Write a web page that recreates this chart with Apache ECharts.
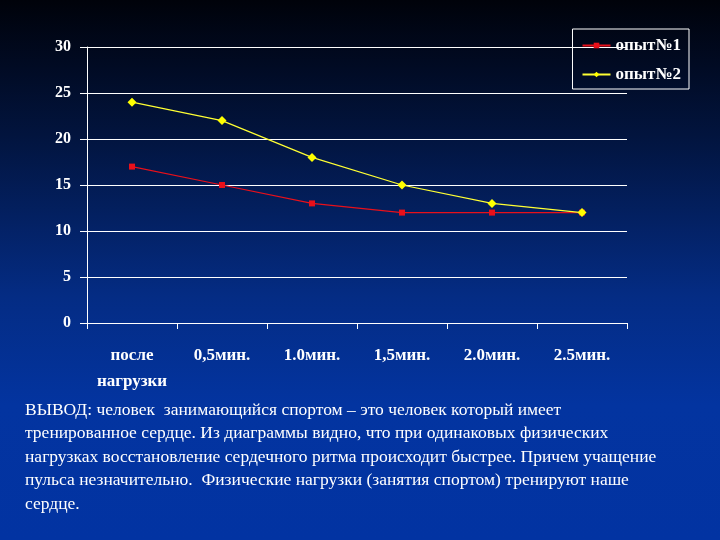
<!DOCTYPE html>
<html><head><meta charset="utf-8">
<script src="https://cdn.jsdelivr.net/npm/echarts@6/dist/echarts.min.js"></script>
<style>html,body{margin:0;padding:0;}#c{width:720px;height:540px;}</style>
</head><body><div id="c"></div>
<script>
var categories = ['после\nнагрузки', '0,5мин.', '1.0мин.', '1,5мин.', '2.0мин.', '2.5мин.'];
var series1Name = 'опыт№1';
var series1 = [17, 15, 13, 12, 12, 12];
var series2Name = 'опыт№2';
var series2 = [24, 22, 18, 15, 13, 12];
var conclusionLines = [
  'ВЫВОД: человек  занимающийся спортом – это человек который имеет',
  'тренированное сердце. Из диаграммы видно, что при одинаковых физических',
  'нагрузках восстановление сердечного ритма происходит быстрее. Причем учащение',
  'пульса незначительно.  Физические нагрузки (занятия спортом) тренируют наше',
  'сердце.'
];
var serif = '"Liberation Serif", "DejaVu Serif", serif';
var chart = echarts.init(document.getElementById('c'));
var graphics = conclusionLines.map(function (t, i) {
  return {type: 'text', left: 25, top: 401 + i * 23.6,
    style: {text: t, fill: '#ffffff', font: '17.5px ' + serif}};
});
chart.setOption({
  backgroundColor: new echarts.graphic.LinearGradient(0, 0, 0, 1, [
    {offset: 0, color: '#00020a'},
    {offset: 0.25, color: '#02143e'},
    {offset: 0.55, color: '#042c84'},
    {offset: 0.75, color: '#0334a0'},
    {offset: 1, color: '#0233a2'}
  ]),
  animation: false,
  grid: {left: 87, right: 93, top: 47, bottom: 217, containLabel: false},
  legend: {
    right: 31, top: 29, orient: 'vertical',
    padding: [8, 8, 6, 9],
    borderColor: '#ffffff', borderWidth: 1,
    itemWidth: 28, itemHeight: 7, itemGap: 12,
    textStyle: {color: '#ffffff', fontFamily: serif, fontSize: 17, fontWeight: 'bold'},
    data: [series1Name, series2Name]
  },
  xAxis: {
    type: 'category', data: categories, boundaryGap: true,
    axisLine: {show: true, lineStyle: {color: '#ffffff', width: 1}},
    axisTick: {show: true, length: 6, lineStyle: {color: '#ffffff'}},
    axisLabel: {color: '#ffffff', fontFamily: serif, fontSize: 17, fontWeight: 'bold', margin: 20, lineHeight: 26, interval: 0},
    splitLine: {show: false}
  },
  yAxis: {
    type: 'value', min: 0, max: 30, interval: 5,
    axisLine: {show: true, lineStyle: {color: '#ffffff', width: 1}},
    axisTick: {show: true, inside: false, length: 7, lineStyle: {color: '#ffffff'}},
    axisLabel: {color: '#ffffff', fontFamily: serif, fontSize: 16, fontWeight: 'bold', margin: 16},
    splitLine: {show: true, lineStyle: {color: '#ffffff', width: 1}}
  },
  series: [
    {name: series1Name, type: 'line', data: series1, symbol: 'rect', symbolSize: 6,
      lineStyle: {color: '#e8101a', width: 1.2}, itemStyle: {color: '#e8101a'}},
    {name: series2Name, type: 'line', data: series2, symbol: 'diamond', symbolSize: 9,
      lineStyle: {color: '#ffff33', width: 1.2}, itemStyle: {color: '#ffff00'}}
  ],
  graphic: graphics
});
</script></body></html>
